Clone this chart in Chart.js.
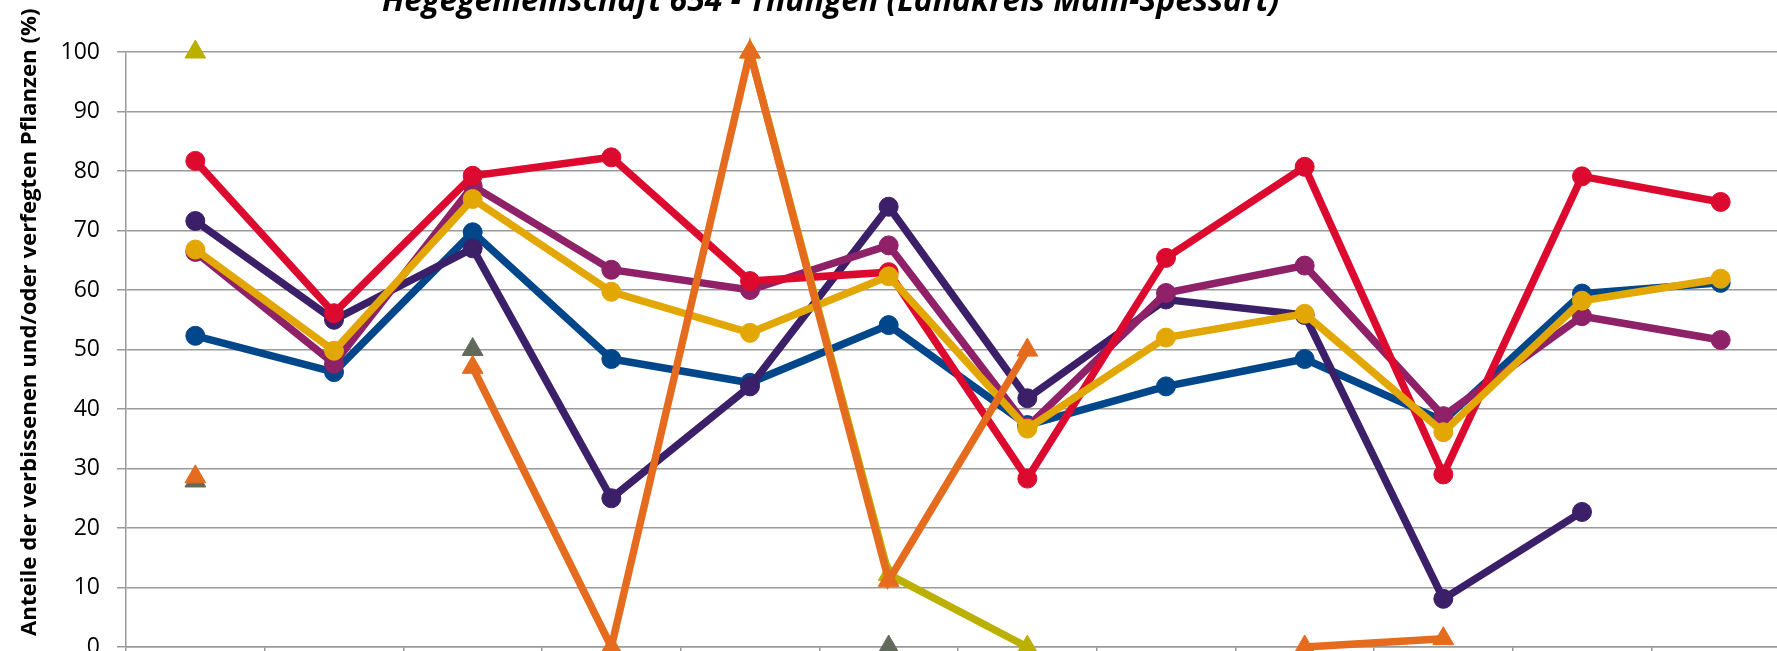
<!DOCTYPE html>
<html>
<head>
<meta charset="utf-8">
<script src="https://cdn.jsdelivr.net/npm/chart.js@4/dist/chart.umd.min.js"></script>
<style>
  html, body { margin: 0; padding: 0; background: #fff; overflow: hidden; }
  #wrap { position: relative; width: 1777px; height: 651px; overflow: hidden; }
  #chart { position: absolute; left: 0; top: 0; }
</style>
</head>
<body>
<div id="wrap"><canvas id="chart" width="1803" height="720"></canvas></div>
<script>
// survey years (axis labels sit below the visible crop)
const years = ['1991', '1994', '1997', '2000', '2003', '2006', '2009', '2012', '2015', '2018', '2021', '2024'];
const yTicks = [0, 10, 20, 30, 40, 50, 60, 70, 80, 90, 100];

// circles
const buche = [52.3, 46.2, 69.7, 48.4, 44.4, 54.1, 37.3, 43.8, 48.4, 38.0, 59.4, 61.2];
const eiche = [71.6, 55.0, 67.0, 25.0, 43.8, 74.0, 41.8, 58.4, 55.8, 8.1, 22.7, null];
const edellaubholz = [81.7, 56.1, 79.2, 82.3, 61.5, 63.0, 28.3, 65.4, 80.7, 29.0, 79.1, 74.8];
const sonstLaubholz = [66.4, 47.6, 77.5, 63.4, 60.0, 67.5, 37.0, 59.5, 64.1, 38.8, 55.6, 51.6];
const laubholzGesamt = [66.8, 49.8, 75.3, 59.7, 52.8, 62.3, 36.7, 52.0, 56.0, 36.1, 58.2, 61.9];
// triangles
const tanne = [100, null, null, null, 100, 12.2, 0, null, null, null, null, null];
const kiefer = [27.9, null, 50.0, null, null, 0, null, null, null, null, null, null];
const fichte = [28.6, null, 47.0, 0, 100, 11.2, 49.9, null, 0, 1.4, null, null];

const titleText = 'Hegegemeinschaft 654 - Thüngen (Landkreis Main-Spessart)';
const yTitleText = 'Anteile der verbissenen und/oder verfegten Pflanzen (%)';

function line(label, data, color, style) {
  const tri = style === 'triangle';
  return {
    label: label,
    data: data,
    borderColor: color,
    backgroundColor: color,
    pointBackgroundColor: color,
    pointBorderColor: color,
    borderWidth: 7.5,
    pointStyle: style,
    pointRadius: tri ? 12 : 9.5,
    pointHoverRadius: tri ? 12 : 9.5,
    pointBorderWidth: 1,
    tension: 0,
    spanGaps: false,
    clip: false
  };
}

// first dataset is painted on top
const datasets = [
  line('Fichte', fichte, '#e56b1e', 'triangle'),
  line('Tanne', tanne, '#bbb000', 'triangle'),
  line('Kiefer', kiefer, '#626b5b', 'triangle'),
  line('Laubholz gesamt', laubholzGesamt, '#e3a704', 'circle'),
  line('Edellaubholz', edellaubholz, '#dc0a2f', 'circle'),
  line('Sonstiges Laubholz', sonstLaubholz, '#8e2167', 'circle'),
  line('Eiche', eiche, '#3b1f68', 'circle'),
  line('Buche', buche, '#00468a', 'circle')
];

function fitFont(ctx, style, text, width) {
  ctx.font = style + ' 30px "Open Sans"';
  const size = 30 * width / ctx.measureText(text).width;
  ctx.font = style + ' ' + size + 'px "Open Sans"';
}

const titles = {
  id: 'titles',
  afterDraw(chart) {
    const ctx = chart.ctx;
    ctx.save();
    ctx.fillStyle = '#000';
    ctx.textAlign = 'left';
    ctx.textBaseline = 'alphabetic';
    // main title, sized to the width it takes in the original
    fitFont(ctx, 'italic bold', titleText, 898);
    ctx.fillText(titleText, 382, 11);
    // y axis title
    ctx.translate(36, 636);
    ctx.rotate(-Math.PI / 2);
    fitFont(ctx, 'bold', yTitleText, 628);
    ctx.fillText(yTitleText, 0, 0);
    ctx.restore();
  }
};

new Chart(document.getElementById('chart'), {
  type: 'line',
  data: { labels: years, datasets: datasets },
  options: {
    responsive: false,
    animation: false,
    events: [],
    layout: { padding: { top: 52, right: 2, left: 0, bottom: 0 } },
    plugins: {
      legend: { display: false },
      tooltip: { enabled: false },
      title: { display: false }
    },
    scales: {
      x: {
        type: 'category',
        offset: true,
        grid: { offset: true, drawOnChartArea: false, color: '#9a9a9a', lineWidth: 1.5, tickLength: 9 },
        border: { color: '#9a9a9a', width: 1.5 },
        ticks: { color: '#000', padding: 0, font: { family: 'Open Sans', size: 23 } },
        afterFit(scale) { scale.height = 73; }
      },
      y: {
        min: 0,
        max: 100,
        afterBuildTicks(scale) { scale.ticks = yTicks.map(v => ({ value: v })); },
        grid: { color: '#9a9a9a', lineWidth: 1.5, tickLength: 9 },
        border: { color: '#9a9a9a', width: 1.5 },
        ticks: { color: '#000', padding: 17, font: { family: 'Open Sans', size: 23 } },
        afterFit(scale) { scale.width = 126; }
      }
    }
  },
  plugins: [titles]
});
</script>
</body>
</html>
